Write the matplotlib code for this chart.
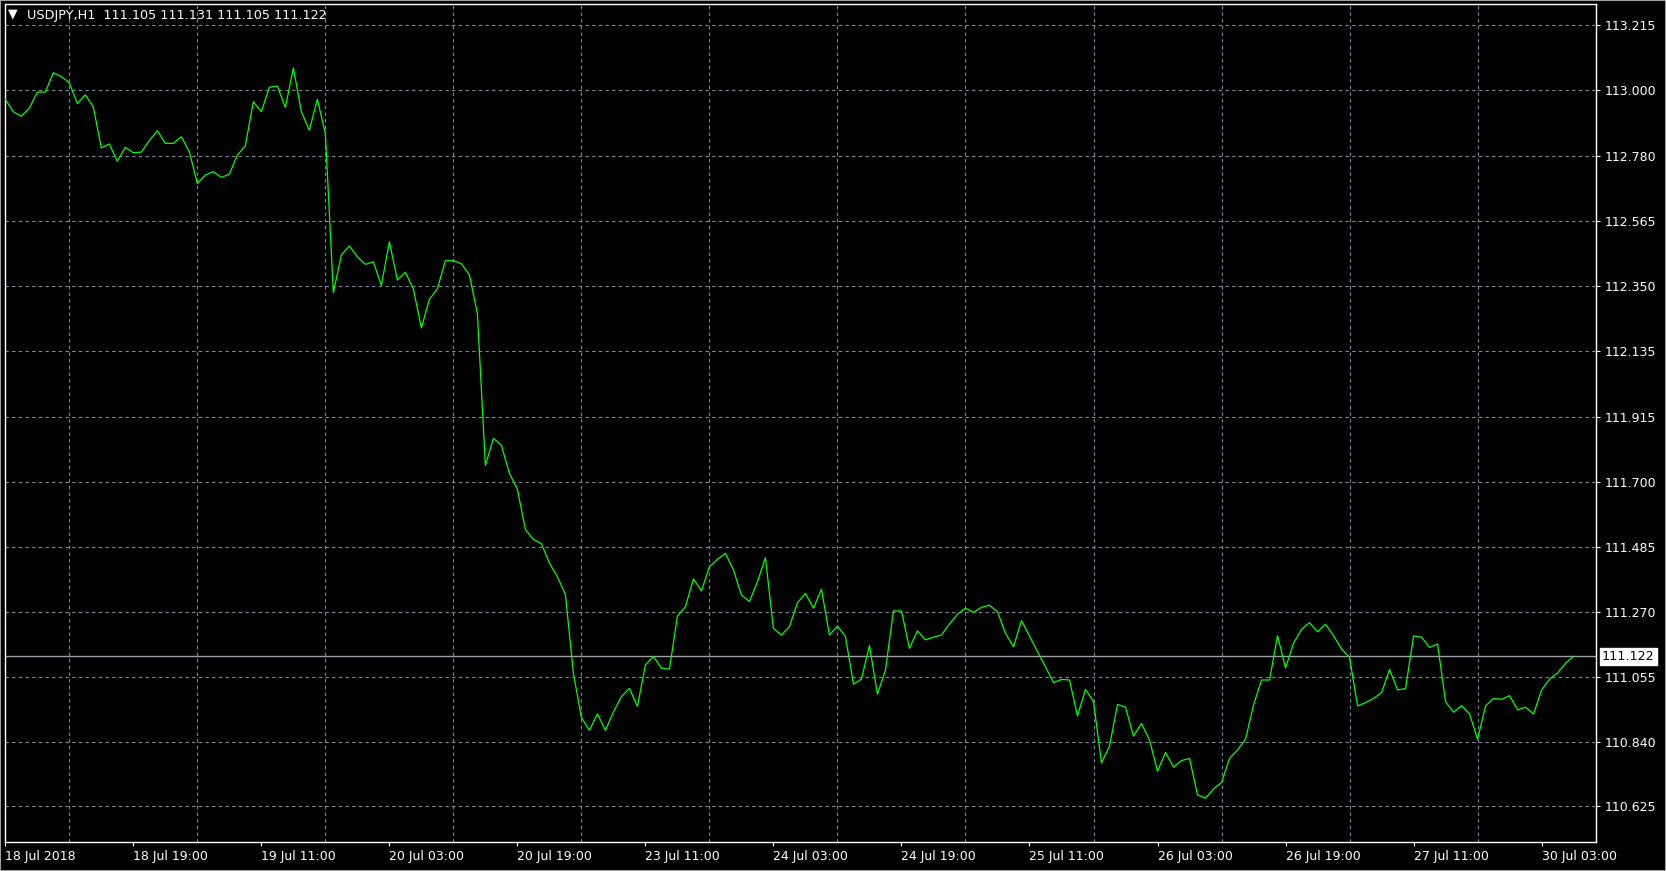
import numpy as np
import matplotlib
matplotlib.use("Agg")
import matplotlib.pyplot as plt
import matplotlib.transforms as mtransforms
from matplotlib.patches import Rectangle

# ---- data ----
symbol_title = "USDJPY,H1  111.105 111.131 111.105 111.122"

prices = [
    112.969, 112.928, 112.913, 112.939, 112.993, 112.993, 113.057, 113.044, 113.024, 112.955,
    112.984, 112.944, 112.808, 112.821, 112.764, 112.810, 112.792, 112.794, 112.832, 112.865,
    112.823, 112.823, 112.845, 112.795, 112.690, 112.718, 112.729, 112.710, 112.721, 112.784,
    112.815, 112.961, 112.928, 113.009, 113.013, 112.942, 113.073, 112.928, 112.867, 112.969,
    112.856, 112.328, 112.453, 112.483, 112.447, 112.422, 112.430, 112.352, 112.497, 112.370,
    112.396, 112.340, 112.211, 112.306, 112.341, 112.434, 112.434, 112.424, 112.387, 112.259,
    111.755, 111.845, 111.822, 111.729, 111.676, 111.543, 111.510, 111.496, 111.432, 111.386,
    111.328, 111.066, 110.920, 110.877, 110.932, 110.877, 110.938, 110.989, 111.016, 110.957,
    111.094, 111.122, 111.083, 111.080, 111.256, 111.287, 111.379, 111.339, 111.420, 111.444,
    111.464, 111.409, 111.326, 111.304, 111.370, 111.449, 111.215, 111.193, 111.221, 111.300,
    111.331, 111.282, 111.345, 111.193, 111.223, 111.188, 111.030, 111.047, 111.158, 110.997,
    111.077, 111.273, 111.273, 111.149, 111.207, 111.177, 111.186, 111.193, 111.230, 111.262,
    111.282, 111.268, 111.285, 111.292, 111.270, 111.199, 111.154, 111.241, 111.190, 111.138,
    111.088, 111.035, 111.046, 111.044, 110.925, 111.013, 110.972, 110.769, 110.825, 110.963,
    110.954, 110.858, 110.900, 110.845, 110.742, 110.804, 110.755, 110.777, 110.784, 110.663,
    110.652, 110.683, 110.704, 110.784, 110.812, 110.848, 110.961, 111.044, 111.044, 111.191,
    111.084, 111.166, 111.212, 111.234, 111.204, 111.229, 111.191, 111.147, 111.119, 110.958,
    110.969, 110.983, 111.002, 111.079, 111.011, 111.016, 111.190, 111.186, 111.152, 111.163,
    110.972, 110.937, 110.959, 110.931, 110.848, 110.958, 110.983, 110.980, 110.992, 110.945,
    110.954, 110.931, 111.011, 111.047, 111.067, 111.100, 111.122,
]

y_ticks = [110.625, 110.840, 111.055, 111.270, 111.485, 111.700, 111.915,
           112.135, 112.350, 112.565, 112.780, 113.000, 113.215]
y_tick_labels = ["110.625", "110.840", "111.055", "111.270", "111.485", "111.700", "111.915",
                 "112.135", "112.350", "112.565", "112.780", "113.000", "113.215"]

x_tick_bars = [0, 16, 32, 48, 64, 80, 96, 112, 128, 144, 160, 176, 192]
x_tick_labels = ["18 Jul 2018", "18 Jul 19:00", "19 Jul 11:00", "20 Jul 03:00",
                 "20 Jul 19:00", "23 Jul 11:00", "24 Jul 03:00", "24 Jul 19:00",
                 "25 Jul 11:00", "26 Jul 03:00", "26 Jul 19:00", "27 Jul 11:00",
                 "30 Jul 03:00"]
grid_step_bars = 8
last_price = 111.122

# ---- figure ----
W, H = 1666, 871
fig = plt.figure(figsize=(W / 100, H / 100), dpi=100, facecolor="black")
plt.rcParams["font.family"] = ["DejaVu Sans"]

ax_left, ax_right = 4.5, 1596.0
ax_top, ax_bottom = 4.0, 842.0
ax = fig.add_axes([ax_left / W, 1 - ax_bottom / H,
                   (ax_right - ax_left) / W, (ax_bottom - ax_top) / H])
ax.set_facecolor("black")

x = np.arange(len(prices))
ax.plot(x, prices, color="#00ff00", lw=0.9, zorder=3)

ax.set_xlim(-0.1, 198.8)
ax.set_ylim(110.507, 113.285)

# grid
grid_color = "#7f8c9c"
ax.set_yticks(y_ticks)
ax.set_yticklabels(y_tick_labels)
ax.set_xticks(x_tick_bars)
ax.set_xticklabels(x_tick_labels, ha="left")
ax.set_xticks(np.arange(grid_step_bars, len(prices), grid_step_bars), minor=True)
ax.grid(True, which="major", axis="y", color=grid_color, lw=0.8, linestyle=(0, (3, 3)))
ax.grid(True, which="minor", axis="x", color=grid_color, lw=0.8, linestyle=(0, (3, 3)))

ax.yaxis.tick_right()
ax.tick_params(axis="y", which="major", colors="white", labelcolor="white",
               labelsize=9, length=3, width=0.8, pad=3)
ax.tick_params(axis="x", which="major", colors="white", labelcolor="white",
               labelsize=9, length=3, width=0.8, pad=3)
ax.tick_params(axis="x", which="minor", length=0)
for s in ax.spines.values():
    s.set_color("white")
    s.set_linewidth(1.0)

# current price line and tag
ax.axhline(last_price, color="#a0a0a8", lw=1.0, zorder=2)
trans = mtransforms.blended_transform_factory(ax.transAxes, ax.transData)
ax.text(1.0 + 6 / (ax_right - ax_left), last_price, f"{last_price:.3f}",
        transform=trans, ha="left", va="center", fontsize=9.2, color="black",
        bbox=dict(boxstyle="square,pad=0.15", facecolor="white", edgecolor="white"),
        clip_on=False, zorder=5)

# title
fig.text(8 / W, 1 - 14.0 / H, "\u25bc", color="white", fontsize=9,
         ha="left", va="center")
fig.text(27 / W, 1 - 15.0 / H, symbol_title, color="white", fontsize=9.2,
         ha="left", va="center")

# outer frame
fig.patches.append(Rectangle((0, 0), 1, 1, transform=fig.transFigure,
                             fill=False, edgecolor="#a0a0a0", lw=1.5))

fig.savefig("out.png", dpi=100, facecolor="black")
